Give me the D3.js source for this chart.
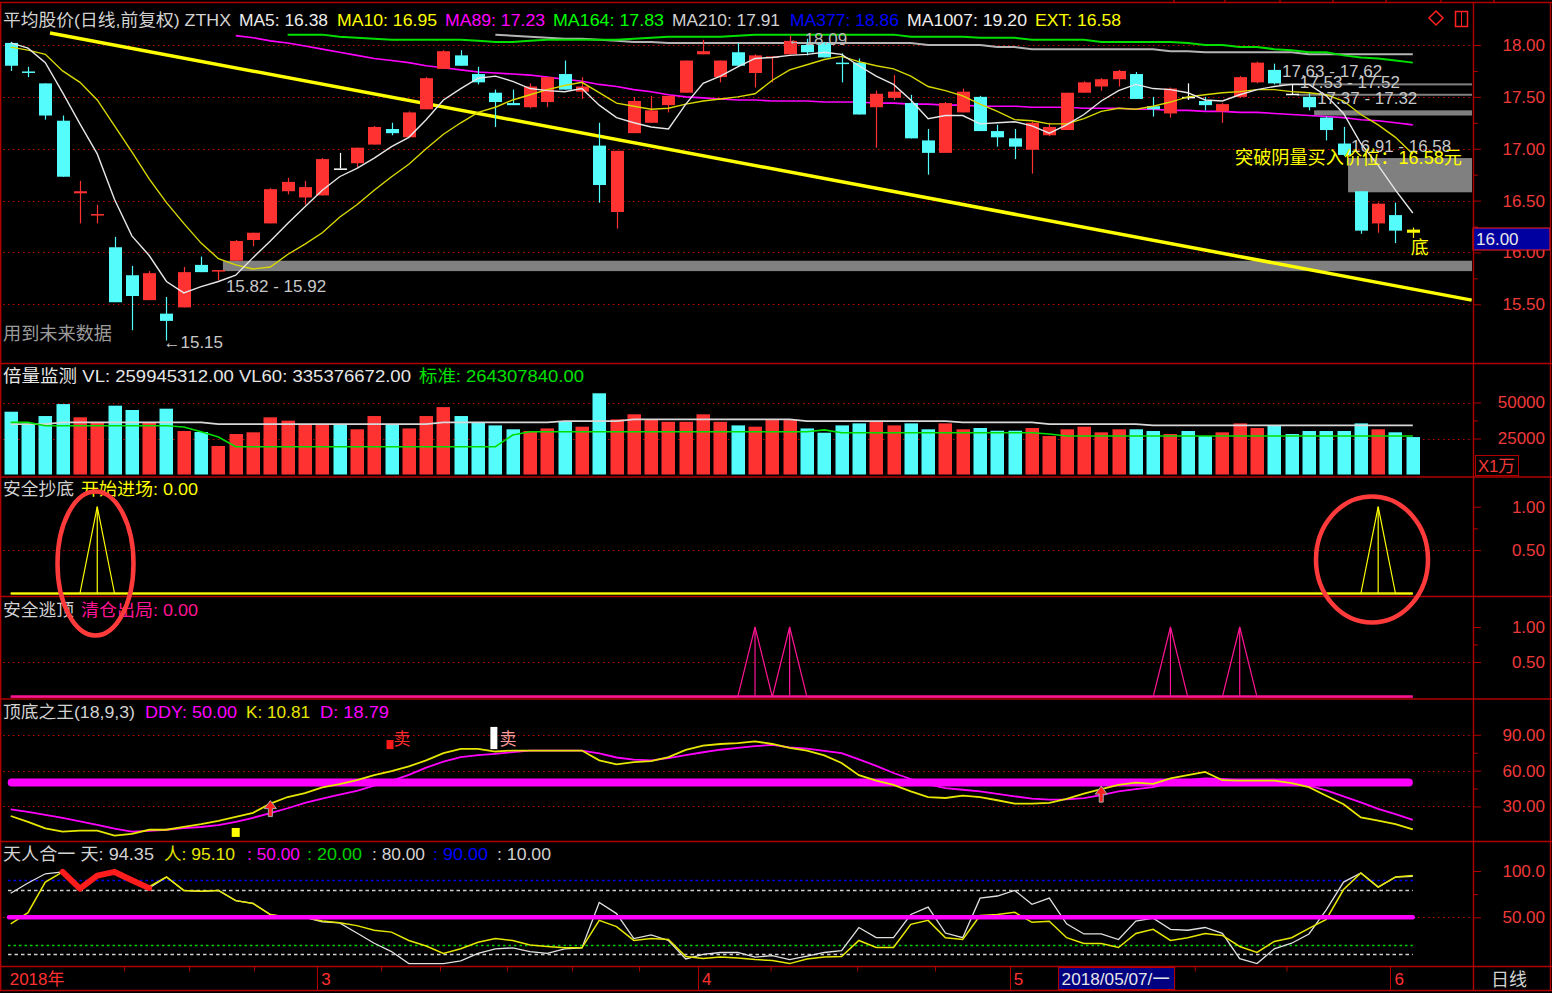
<!DOCTYPE html>
<html><head><meta charset="utf-8">
<script src="https://cdn.jsdelivr.net/npm/d3@7/dist/d3.min.js"></script>
<style>
html,body{margin:0;padding:0;background:#000;overflow:hidden}
svg{display:block}
</style></head><body>
<svg id="chart" width="1552" height="993"></svg>
<script>
// ---------------- DATA ----------------
const open=[18.02,17.745,17.63,17.27,16.57,16.36,16.05,15.78,15.54,15.41,
15.47,15.88,15.82,15.92,16.12,16.28,16.59,16.53,16.55,16.81,
16.86,17.04,17.19,17.11,17.38,17.77,17.90,17.72,17.54,17.44,
17.40,17.45,17.72,17.55,17.03,16.39,17.15,17.25,17.42,17.54,
17.91,17.69,17.93,17.73,17.88,17.91,18.00,18.02,17.83,17.83,
17.40,17.49,17.44,17.08,16.96,17.35,17.50,17.17,17.10,16.99,
17.13,17.18,17.54,17.60,17.67,17.72,17.41,17.34,17.50,17.46,
17.36,17.50,17.64,17.76,17.53,17.50,17.30,17.05,16.59,16.28,
16.36,16.22];
const close=[17.80,17.735,17.32,16.73,16.59,16.37,15.52,15.58,15.80,15.34,
15.81,15.81,15.83,16.11,16.19,16.61,16.68,16.63,16.90,16.81,
17.01,17.21,17.15,17.35,17.68,17.94,17.80,17.64,17.45,17.42,
17.60,17.69,17.57,17.60,16.65,16.98,17.46,17.37,17.51,17.85,
17.94,17.85,17.80,17.90,17.89,18.04,17.93,17.88,17.82,17.33,
17.53,17.55,17.10,16.96,17.44,17.55,17.17,17.11,17.02,17.25,
17.21,17.54,17.64,17.67,17.75,17.48,17.38,17.58,17.50,17.42,
17.43,17.69,17.83,17.63,17.53,17.40,17.18,16.94,16.21,16.47,
16.21,16.19];
const high=[18.03,17.79,17.63,17.32,16.69,16.46,16.15,15.87,15.82,15.57,
15.86,15.96,15.83,16.12,16.19,16.62,16.72,16.69,16.91,16.96,
17.01,17.22,17.25,17.36,17.69,17.95,17.95,17.79,17.57,17.57,
17.63,17.69,17.85,17.69,17.25,16.98,17.50,17.51,17.51,17.85,
18.05,17.85,18.02,17.91,17.89,18.09,18.06,18.03,17.92,17.87,
17.56,17.71,17.52,17.19,17.45,17.58,17.51,17.23,17.19,17.26,
17.25,17.54,17.65,17.68,17.76,17.74,17.50,17.59,17.63,17.50,
17.44,17.70,17.84,17.82,17.62,17.54,17.31,17.21,16.59,16.48,
16.48,16.24];
const low=[17.75,17.69,17.28,16.73,16.28,16.28,15.52,15.25,15.54,15.15,
15.47,15.81,15.73,15.92,16.06,16.28,16.56,16.46,16.55,16.81,
16.82,17.04,17.13,17.11,17.38,17.77,17.80,17.62,17.21,17.42,
17.39,17.40,17.57,17.48,16.48,16.23,17.15,17.25,17.35,17.54,
17.91,17.64,17.80,17.59,17.64,17.91,17.90,17.88,17.64,17.33,
17.01,17.47,17.10,16.75,16.96,17.35,17.17,17.02,16.90,16.76,
17.12,17.18,17.54,17.56,17.60,17.48,17.31,17.30,17.47,17.37,
17.25,17.49,17.63,17.62,17.52,17.37,17.08,16.93,16.18,16.19,
16.09,16.14];
const ma5=[18.02,17.97,17.83,17.54,17.24,16.95,16.51,16.16,15.97,15.72,
15.61,15.67,15.72,15.78,15.95,16.11,16.28,16.44,16.60,16.73,
16.81,16.91,17.02,17.11,17.28,17.47,17.58,17.68,17.70,17.65,
17.58,17.56,17.55,17.58,17.42,17.30,17.25,17.21,17.19,17.43,
17.63,17.70,17.79,17.87,17.88,17.90,17.91,17.93,17.91,17.80,
17.70,17.62,17.47,17.29,17.32,17.32,17.24,17.25,17.26,17.22,
17.15,17.23,17.33,17.46,17.56,17.62,17.58,17.57,17.54,17.47,
17.46,17.52,17.57,17.60,17.62,17.62,17.51,17.34,17.05,16.84,
16.60,16.38];
const ma10=[17.98,17.95,17.91,17.75,17.64,17.47,17.22,16.97,16.71,16.48,
16.28,16.09,15.94,15.88,15.84,15.86,15.98,16.08,16.19,16.34,
16.46,16.60,16.73,16.85,17.00,17.14,17.25,17.35,17.40,17.47,
17.52,17.57,17.61,17.64,17.54,17.44,17.41,17.38,17.39,17.43,
17.46,17.48,17.50,17.53,17.66,17.76,17.81,17.86,17.89,17.84,
17.80,17.77,17.70,17.60,17.56,17.51,17.43,17.36,17.28,17.27,
17.24,17.24,17.29,17.36,17.39,17.38,17.41,17.45,17.50,17.52,
17.54,17.55,17.57,17.57,17.55,17.54,17.52,17.46,17.33,17.23,
17.11,16.95];
const ma89=[null,null,null,null,null,null,null,null,null,null,null,null,null,
18.09,18.07,18.04,18.02,17.99,17.96,17.93,17.90,17.87,17.85,
17.83,17.80,17.78,17.76,17.74,17.73,17.72,17.71,17.69,17.67,
17.65,17.62,17.60,17.57,17.55,17.52,17.50,17.49,17.48,17.47,
17.47,17.46,17.46,17.46,17.45,17.45,17.45,17.44,17.44,17.43,
17.43,17.42,17.42,17.41,17.41,17.41,17.40,17.40,17.40,17.39,
17.39,17.39,17.38,17.38,17.37,17.37,17.36,17.36,17.35,17.35,
17.34,17.33,17.32,17.31,17.30,17.28,17.27,17.25,17.23];
const ma164=[null,null,null,null,null,null,null,null,null,null,null,null,null,null,null,null,
18.10,18.10,18.10,18.08,18.07,18.06,18.05,18.05,18.05,18.05,
18.05,18.04,18.03,18.03,18.04,18.05,18.05,18.05,18.05,18.05,
18.06,18.07,18.08,18.08,18.08,18.08,18.09,18.10,18.10,18.10,
18.10,18.10,18.10,18.10,18.10,18.10,18.08,18.08,18.08,18.08,
18.07,18.07,18.07,18.05,18.05,18.05,18.05,18.03,18.03,18.03,
18.03,18.03,18.02,18.00,18.00,17.98,17.98,17.96,17.95,17.93,
17.93,17.90,17.88,17.87,17.85,17.83];
const ma210=[null,null,null,null,null,null,null,null,null,null,null,null,null,null,
null,null,null,null,null,null,null,null,null,null,null,null,null,null,
18.10,18.09,18.08,18.07,18.06,18.06,18.05,18.04,18.03,18.03,
18.02,18.02,18.02,18.02,18.02,18.02,18.02,18.02,18.02,18.02,
18.02,18.02,18.02,18.02,18.02,18.00,18.00,18.00,18.00,17.98,
17.98,17.96,17.96,17.96,17.96,17.96,17.96,17.96,17.96,17.94,
17.94,17.93,17.93,17.93,17.93,17.93,17.93,17.91,17.91,17.91,
17.91,17.91,17.91,17.91];
// support / resistance zones (start day, high, low)
const zoneStart=[12.26,73.27,74.3,75.3,77.26];
const zoneHigh=[15.92,17.63,17.53,17.37,16.91];
const zoneLow=[15.82,17.62,17.52,17.32,16.58];
const zoneLabel=["15.82 - 15.92","17.63 - 17.62","17.53 - 17.52","17.37 - 17.32","16.91 - 16.58"];
// trend line (day index, price)
const trendDay=[2.27,84.4];
const trendPrice=[18.116,15.54];
const priceTicks=[15.5,16,16.5,17,17.5,18];
const priceMinor=[15.75,16.25,16.75,17.25,17.75];
const lowDay=9, highDay=45, bottomDay=81;
// volume (x 1万)
const volume=[43600,35500,40600,48900,39700,36000,47800,44800,36000,45700,
30200,29500,19800,28100,29300,39700,37400,35000,35000,35000,
31400,40600,35000,32000,40600,46800,40600,36200,34100,31400,
30200,32000,36600,33200,56400,38300,41800,38300,36600,36600,
41800,36600,34100,33200,37800,37800,32000,29000,34100,35500,
36600,34100,35500,31400,35500,31400,32300,30400,30400,32300,
26700,31400,33200,29300,31400,31400,30200,28100,30200,26700,
29300,35500,32300,34100,28100,30200,30200,30200,35500,31400,
29300,26000];
const volMA60=[35000,35000,35000,36200,36200,36200,36200,36200,36200,36200,
36200,36200,35000,35000,35000,35000,35000,35000,35000,35000,
35000,35000,35000,35000,35000,36200,36200,36200,36200,36200,
36200,36200,37100,37100,37100,37100,38300,38300,38300,38300,
38300,38300,38300,38300,38300,38300,37100,37100,37100,37100,
37100,37100,37100,37100,37100,36200,36200,36200,36200,36200,
35000,35000,35000,35000,35000,35000,34100,34100,34100,34100,
34100,34100,34100,34100,34100,34100,34100,34100,34100,34100,
34100,34100];
const volStd=[36200,36200,33900,33900,33900,33900,33900,33900,33900,33900,
33000,29700,26000,19300,19300,19300,19300,19300,19300,19300,
19300,19300,19300,19300,19300,19300,19300,19300,19300,27400,
29700,29700,29700,29700,29700,29700,29700,29700,29700,29700,
29700,29700,29700,29700,29700,29700,29700,31000,29000,29000,
29000,29000,29000,29000,29000,29000,29000,29000,29000,29000,
28100,26700,26700,26700,26700,26700,26700,26700,26700,26700,
26700,26700,26700,26700,26700,26700,26700,26700,26700,26700,
26700,26700];
const volTicks=[25000,50000], volMinor=[37500];
// 安全抄底 / 安全逃顶
const entrySig=[0,0,0,0,0,1,0,0,0,0, 0,0,0,0,0,0,0,0,0,0, 0,0,0,0,0,0,0,0,0,0, 0,0,0,0,0,0,0,0,0,0,
0,0,0,0,0,0,0,0,0,0, 0,0,0,0,0,0,0,0,0,0, 0,0,0,0,0,0,0,0,0,0, 0,0,0,0,0,0,0,0,0,1, 0,0];
const exitSig=[0,0,0,0,0,0,0,0,0,0, 0,0,0,0,0,0,0,0,0,0, 0,0,0,0,0,0,0,0,0,0, 0,0,0,0,0,0,0,0,0,0,
0,0,0,1,0,1,0,0,0,0, 0,0,0,0,0,0,0,0,0,0, 0,0,0,0,0,0,0,1,0,0, 0,1,0,0,0,0,0,0,0,0, 0,0];
// 顶底之王
const kLine=[22.0,17.1,11.6,8.9,9.7,9.7,5.6,7.0,10.5,10.5,
13.0,15.2,18.0,21.2,24.7,32.4,37.9,41.2,46.0,48.8,
52.0,56.2,59.5,63.5,68.6,74.6,78.2,78.2,76.0,76.8,
76.8,76.8,76.8,76.8,68.6,65.3,67.2,68.0,71.3,77.4,
81.0,82.3,83.1,84.5,82.3,79.0,76.8,72.7,66.4,56.2,
51.6,48.0,42.6,37.9,37.1,39.0,37.9,35.2,32.4,32.4,
33.0,36.3,40.7,44.5,48.0,50.0,48.9,53.6,56.2,59.0,
52.0,51.6,51.6,51.6,49.5,46.2,39.0,31.8,20.8,18.1,
15.3,10.81];
const dLine=[27.5,25.5,23,20.5,17.5,14.5,11.5,9,9.5,10.5,
11.8,12.8,14.3,17,20.5,24.5,28.5,33,36.5,40,
43,47.5,51.5,56.5,62.5,67.5,71.3,73,74.1,75.5,
76.8,76.8,76.8,76.8,74.5,71,69.3,68.6,70.5,73,
75.4,77.5,79,80.5,81.5,79.5,78.5,76.5,74.6,69.5,
64,58,53,48.5,45.3,44,42.6,40.5,38.5,36.5,
35.8,36,37,39.5,42.6,44.5,46.2,49.5,52,53.6,
53,51.6,51,50.3,49.7,47.5,43.5,38.5,33.5,28,
23.5,18.79];
const ddyLevel=50;
const kdTicks=[30,60,90], kdMinor=[45,75];
const sellDays=[22,28], sellTop=[85.6,96.6], sellBottom=[78,78];
const buyArrowDays=[15,63];
const bottomMarkDays=[13], bottomMarkTop=[12], bottomMarkBottom=[4.5];
// 天人合一
const sky=[76,87,97,99,81,95,99,90,81.5,93.5,
79,78,79,68,65,53,50,50,45,44,
33,22,13,0,0,0,3,11,16,17,
13,11,16,17,66,54,27,31,25,5,
10,12,12,7,8.7,4.3,8,12,14,39,
28,28,53,61,33,28,70.7,73,79,64,
70.7,43,32,32,26,46,49,37,36,39,
32.6,5.4,0,16,22,32,58,88,97.8,82.6,
93.5,94.35];
const human=[43,55,88,99,81,95,99,90,83,93.5,
79,78,79,68,65,53,50,50,46,44,
41,36,34,25,19,11,16,23,27,25,
20,18.5,17,17,46.7,40,25,27,26,7.6,
5.4,7,6,4.3,3.3,0,5,7,7.6,25,
17.4,17.4,42.4,46.7,28,26,52,53,55.4,44.6,
45.7,28,21.7,21.7,17.4,32.6,37,25,28,32.6,
30.4,18.5,12,23.9,28,38,47.8,80,97.8,82.6,
93.5,95.1];
const hotFrom=3, hotTo=8;
const refLevels=[90,80,50,20,10];
// x axis
const monthStart=[0,18,40,58,80];
const monthLabel=["2018年","3","4","5","6"];
const weekTicks=[6.55,10.3,14.06,21.4,24.8,28.67,32.43,36.3,43.9,48.9,53.4,63.5,68.4,73.7];
const cursorDay=61, cursorLabel="2018/05/07/一";

// ---------------- DRAW ----------------
const FONT='"Liberation Sans","Noto Sans CJK SC",sans-serif';
const RED="#ff3232", CYAN="#54fcfc", BORDER="#b00000", GRID="#c00000", LABEL="#ee3a3a";
const W=1552,H=993,AX=1473;
const svg=d3.select("#chart");
svg.append("rect").attr("width",W).attr("height",H).attr("fill","#000");
const N=close.length;
const x=d3.scaleLinear().domain([0,N-1]).range([10.7,1412.8]);

function txt(g,px,py,s,color,size,len){
  const t=g.append("text").attr("x",px).attr("y",py).attr("fill",color)
    .style("font-family",FONT).style("font-size",size+"px").text(s);
  if(len) t.attr("textLength",len).attr("lengthAdjust","spacingAndGlyphs");
  return t;
}
function grid(g,scale,vals,x1,x2){
  g.selectAll(null).data(vals).join("line").attr("x1",x1).attr("x2",x2)
   .attr("y1",d=>Math.round(scale(d))+0.5).attr("y2",d=>Math.round(scale(d))+0.5)
   .attr("stroke",GRID).attr("stroke-width",1).attr("stroke-dasharray","1.5,3.5");
}
function rightAxis(scale,major,minor,fmt){
  const g=svg.append("g").attr("transform",`translate(${AX},0)`);
  g.call(d3.axisRight(scale).tickValues(major).tickSize(8).tickFormat(fmt));
  g.select(".domain").remove();
  g.selectAll(".tick line").attr("stroke",BORDER);
  g.selectAll(".tick text").attr("fill",LABEL).attr("x",72).attr("text-anchor","end")
    .style("font-family",FONT).style("font-size","17px");
  if(minor.length){
    const g2=svg.append("g").attr("transform",`translate(${AX},0)`);
    g2.call(d3.axisRight(scale).tickValues(minor).tickSize(5).tickFormat(""));
    g2.select(".domain").remove();
    g2.selectAll(".tick line").attr("stroke",BORDER);
  }
}
const candleColor=i=> i===bottomDay?"#ffff00":close[i]>open[i]?RED:close[i]<open[i]?CYAN:"#ffffff";
const volColor=i=> close[i]>open[i]?RED:CYAN;

// ===== main price panel =====
const yP=d3.scaleLinear().domain([15.5,18]).range([304.3,45]);
svg.append("defs").append("clipPath").attr("id","clipMain").append("rect")
  .attr("x",2).attr("y",29).attr("width",AX-3).attr("height",334);
const gm=svg.append("g").attr("clip-path","url(#clipMain)");
grid(gm,yP,priceTicks,3,AX);
zoneStart.forEach((s,k)=>{
  const y1=yP(zoneHigh[k]), y2=yP(zoneLow[k]);
  gm.append("rect").attr("x",x(s)).attr("y",Math.min(y1,y2)).attr("width",AX-1-x(s))
    .attr("height",Math.max(2,Math.abs(y2-y1))).attr("fill","#808080");
});
gm.append("path").datum(trendDay.map((d,k)=>[d,trendPrice[k]]))
  .attr("d",d3.line().x(d=>x(d[0])).y(d=>yP(d[1]))).attr("stroke","#ffff00").attr("stroke-width",3.5).attr("fill","none");
const maLine=(arr,color,w)=>gm.append("path").datum(arr.map((v,i)=>[i,v]))
  .attr("d",d3.line().defined(d=>d[1]!=null).x(d=>x(d[0])).y(d=>yP(d[1])))
  .attr("stroke",color).attr("stroke-width",w).attr("fill","none");
maLine(ma210,"#b4b4b4",2);
maLine(ma164,"#00e000",2);
maLine(ma89,"#ff00ff",1.6);
// candles
const gc=gm.append("g");
gc.selectAll("line").data(d3.range(N)).join("line")
  .attr("x1",i=>Math.round(x(i))+0.5).attr("x2",i=>Math.round(x(i))+0.5)
  .attr("y1",i=>yP(high[i])).attr("y2",i=>yP(low[i])).attr("stroke",candleColor).attr("stroke-width",1.2);
gc.selectAll("rect").data(d3.range(N)).join("rect")
  .attr("x",i=>Math.round(x(i))-6).attr("width",13)
  .attr("y",i=>yP(Math.max(open[i],close[i])))
  .attr("height",i=>Math.max(1.5,yP(Math.min(open[i],close[i]))-yP(Math.max(open[i],close[i]))))
  .attr("fill",candleColor);
maLine(ma10,"#d8d800",1.4);
maLine(ma5,"#e6e6e6",1.4);
// annotations
zoneStart.forEach((s,k)=>{
  const yy = k===0 ? yP(zoneLow[k])+21 : yP(zoneHigh[k])-6;
  txt(gm,x(s)+3,yy,zoneLabel[k],"#c8c8c8",17);
});
txt(gm,x(lowDay)-3,yP(low[lowDay])+7,"←"+low[lowDay].toFixed(2),"#c8c8c8",17);
txt(gm,x(highDay)-2,yP(high[highDay])+9,"←"+high[highDay].toFixed(2),"#b8b8b8",17);
txt(gm,3,340,"用到未来数据","#9a9a9a",18,109);
txt(gm,1235,164,"突破阴量买入价位：16.58元","#ffff00",18,227);
txt(gm,x(bottomDay)-2,yP(low[bottomDay])+16,"底","#ffff00",18);
rightAxis(yP,priceTicks,priceMinor,d3.format(".2f"));
// cursor price box
svg.append("rect").attr("x",AX).attr("y",228).attr("width",77).attr("height",22).attr("fill","#0000a0").attr("stroke","#ff2020");
txt(svg,1476,245,"16.00","#e8e8e8",17);

// header
const hdr=[["平均股价(日线,前复权) ZTHX",3,228,"#d2d2d2"],["MA5: 16.38",239,89,"#eeeeee"],["MA10: 16.95",337,100,"#ffff00"],
["MA89: 17.23",445,100,"#ff00ff"],["MA164: 17.83",553,111,"#00ff00"],["MA210: 17.91",672,108,"#d2d2d2"],
["MA377: 18.86",790,109,"#0000ff"],["MA1007: 19.20",907,120,"#eeeeee"],["EXT: 16.58",1035,86,"#ffff00"]];
hdr.forEach(h=>txt(svg,h[1],26,h[0],h[3],17,h[2]));
svg.append("path").attr("d","M1436,11 L1443,18 L1436,25 L1429,18 Z").attr("fill","none").attr("stroke","#ff2020").attr("stroke-width",1.5);
svg.append("rect").attr("x",1455.5).attr("y",11.5).attr("width",12).attr("height",15).attr("fill","none").attr("stroke","#ff2020").attr("stroke-width",1.5);
svg.append("line").attr("x1",1461.5).attr("x2",1461.5).attr("y1",12).attr("y2",26).attr("stroke","#ff2020");

// ===== volume panel =====
const yV=d3.scaleLinear().domain([0,50000]).range([474.5,402.5]);
const gv=svg.append("g");
grid(gv,yV,volTicks,3,AX);
gv.selectAll("rect").data(d3.range(N)).join("rect")
  .attr("x",i=>Math.round(x(i))-6.5).attr("width",13.5)
  .attr("y",i=>yV(volume[i])).attr("height",i=>yV(0)-yV(volume[i])).attr("fill",volColor);
const vLine=(arr,color,w)=>gv.append("path").datum(arr)
  .attr("d",d3.line().x((d,i)=>x(i)).y(d=>yV(d))).attr("stroke",color).attr("stroke-width",w).attr("fill","none");
vLine(volMA60,"#d8d8d8",1.8);
vLine(volStd,"#00e000",1.6);
txt(svg,3,382,"倍量监测 VL: 259945312.00 VL60: 335376672.00","#e6e6e6",17,408);
txt(svg,419,382,"标准: 264307840.00","#00e000",17,165);
rightAxis(yV,volTicks,volMinor,d3.format("d"));
svg.append("rect").attr("x",1475.5).attr("y",455.5).attr("width",43).attr("height",20).attr("fill","none").attr("stroke",BORDER);
txt(svg,1478,472,"X1万",LABEL,17,37);

// ===== 安全抄底 =====
const yA=d3.scaleLinear().domain([0,1]).range([593.5,506.7]);
const ga=svg.append("g");
grid(ga,yA,[0.5],3,AX);
ga.append("line").attr("x1",x(0)).attr("x2",x(N-1)).attr("y1",yA(0)).attr("y2",yA(0)).attr("stroke","#e8e800").attr("stroke-width",2.5);
ga.append("path").datum(entrySig).attr("d",d3.line().x((d,i)=>x(i)).y(d=>yA(d))).attr("stroke","#ffff00").attr("stroke-width",1.2).attr("fill","none");
ga.selectAll(".stk").data(d3.range(N).filter(i=>entrySig[i]>0)).join("line")
  .attr("x1",i=>x(i)).attr("x2",i=>x(i)).attr("y1",i=>yA(entrySig[i])).attr("y2",yA(0)).attr("stroke","#ffff00").attr("stroke-width",1.2);
txt(svg,3,495,"安全抄底","#d2d2d2",17,71);
txt(svg,81,495,"开始进场: 0.00","#ffff00",17,117);
rightAxis(yA,[0.5,1],[0.75],d3.format(".2f"));

// ===== 安全逃顶 =====
const yB=d3.scaleLinear().domain([0,1]).range([697,627]);
const gb=svg.append("g");
grid(gb,yB,[0.5],3,AX);
gb.append("line").attr("x1",x(0)).attr("x2",x(N-1)).attr("y1",yB(0)-0.5).attr("y2",yB(0)-0.5).attr("stroke","#ff1493").attr("stroke-width",2.5);
gb.append("path").datum(exitSig).attr("d",d3.line().x((d,i)=>x(i)).y(d=>yB(d))).attr("stroke","#ff1493").attr("stroke-width",1.2).attr("fill","none");
gb.selectAll(".stk").data(d3.range(N).filter(i=>exitSig[i]>0)).join("line")
  .attr("x1",i=>x(i)).attr("x2",i=>x(i)).attr("y1",i=>yB(exitSig[i])).attr("y2",yB(0)).attr("stroke","#ff1493").attr("stroke-width",1.2);
txt(svg,3,616,"安全逃顶","#d2d2d2",17,71);
txt(svg,81,616,"清仓出局: 0.00","#ff1493",17,117);
rightAxis(yB,[0.5,1],[0.75],d3.format(".2f"));

// ===== 顶底之王 =====
const yK=d3.scaleLinear().domain([0,90]).range([842.3,734.8]);
const gk=svg.append("g");
grid(gk,yK,kdTicks,3,AX);
gk.append("line").attr("x1",x(0)+1).attr("x2",x(N-1)-4).attr("y1",yK(ddyLevel)).attr("y2",yK(ddyLevel))
  .attr("stroke","#ff00ff").attr("stroke-width",8).attr("stroke-linecap","round");
gk.append("path").datum(dLine).attr("d",d3.line().x((d,i)=>x(i)).y(d=>yK(d))).attr("stroke","#ff00ff").attr("stroke-width",1.8).attr("fill","none");
gk.append("path").datum(kLine).attr("d",d3.line().x((d,i)=>x(i)).y(d=>yK(d))).attr("stroke","#e6e600").attr("stroke-width",1.8).attr("fill","none");
sellDays.forEach((d,k)=>{
  gk.append("rect").attr("x",x(d)-5).attr("y",yK(sellTop[k])).attr("width",7).attr("height",yK(sellBottom[k])-yK(sellTop[k]))
    .attr("fill",k===0?"#ff1a1a":"#ffffff");
  txt(gk,x(d)+(k===0?2:4),745,"卖",k===0?"#ff2a2a":"#ff9a9a",17);
});
buyArrowDays.forEach(d=>{
  const cx=x(d), ty=yK(kLine[d])-3;
  gk.append("path").attr("d",`M${cx},${ty} L${cx+6},${ty+8} L${cx+2},${ty+8} L${cx+2},${ty+16} L${cx-2},${ty+16} L${cx-2},${ty+8} L${cx-6},${ty+8} Z`)
    .attr("fill","#ff2020").attr("stroke","#a8a8a8").attr("stroke-width",1);
});
bottomMarkDays.forEach((d,k)=>{
  gk.append("rect").attr("x",x(d)-4).attr("y",yK(bottomMarkTop[k])).attr("width",8).attr("height",yK(bottomMarkBottom[k])-yK(bottomMarkTop[k])).attr("fill","#ffff00");
});
txt(svg,3,718,"顶底之王(18,9,3)","#d2d2d2",17,132);
txt(svg,145,718,"DDY: 50.00","#ff00ff",17,92);
txt(svg,246,718,"K: 10.81","#e6e600",17,64);
txt(svg,320,718,"D: 18.79","#ff00ff",17,69);
rightAxis(yK,kdTicks,kdMinor,d3.format(".2f"));

// ===== 天人合一 =====
const yT=d3.scaleLinear().domain([0,100]).range([963.6,871]);
const gt=svg.append("g");
grid(gt,yT,[50],3,AX);
const refColor={90:"#0000ff",80:"#d0d0d0",20:"#00d000",10:"#d0d0d0"};
refLevels.filter(v=>v!==50).forEach(v=>{
  gt.append("line").attr("x1",8).attr("x2",x(N-1)).attr("y1",Math.round(yT(v))+0.5).attr("y2",Math.round(yT(v))+0.5)
    .attr("stroke",refColor[v]).attr("stroke-width",1.6).attr("stroke-dasharray",v===90||v===20?"2.5,3":"3.5,3");
});
gt.append("path").datum(sky).attr("d",d3.line().x((d,i)=>x(i)).y(d=>yT(d))).attr("stroke","#e0e0e0").attr("stroke-width",1.3).attr("fill","none");
gt.append("path").datum(human).attr("d",d3.line().x((d,i)=>x(i)).y(d=>yT(d))).attr("stroke","#e6e600").attr("stroke-width",1.5).attr("fill","none");
gt.append("path").datum(d3.range(hotFrom,hotTo+1)).attr("d",d3.line().x(i=>x(i)).y(i=>yT(sky[i])))
  .attr("stroke","#ff1c1c").attr("stroke-width",6).attr("stroke-linejoin","round").attr("stroke-linecap","round").attr("fill","none");
gt.append("line").attr("x1",9).attr("x2",x(N-1)).attr("y1",yT(50)).attr("y2",yT(50)).attr("stroke","#ff00ff").attr("stroke-width",4.5).attr("stroke-linecap","round");
const t1=[["天人合一 天: 94.35",3,151,"#d2d2d2"],["人: 95.10",164,71,"#e6e600"],[": 50.00",247,53,"#ff00ff"],
[": 20.00",307,55,"#00d000"],[": 80.00",372,53,"#d2d2d2"],[": 90.00",433,55,"#0000ff"],[": 10.00",497,54,"#d2d2d2"]];
t1.forEach(h=>txt(svg,h[1],860,h[0],h[3],17,h[2]));
rightAxis(yT,[50,100],[75],d=>d===100?"100.0":d3.format(".2f")(d));

// ===== x axis band =====
const gx=svg.append("g").attr("transform","translate(0,966.5)");
gx.call(d3.axisBottom(x).tickValues(weekTicks).tickSize(5).tickFormat(""));
gx.select(".domain").remove();
gx.selectAll(".tick line").attr("stroke",BORDER);
monthStart.forEach((d,k)=>{
  if(k>0) svg.append("line").attr("x1",Math.round(x(d))-4.5).attr("x2",Math.round(x(d))-4.5).attr("y1",966).attr("y2",991).attr("stroke",BORDER);
  txt(svg,x(d)-1,985,monthLabel[k],"#ff3030",17);
});
svg.append("rect").attr("x",x(cursorDay)-8).attr("y",967.5).attr("width",116).attr("height",22).attr("fill","#000080").attr("stroke","#c00000");
txt(svg,x(cursorDay)-5,985,cursorLabel,"#e6e6e6",17,108);
txt(svg,1491,986,"日线","#d2d2d2",18);

// ===== borders =====
const gB=svg.append("g").attr("stroke",BORDER).attr("stroke-width",1.4);
[2.5,363.5,477,596.5,699,841.5,966.5,990.5].forEach(yy=>gB.append("line").attr("x1",0).attr("x2",W).attr("y1",yy).attr("y2",yy));
[0.7,AX+0.5,1550.5].forEach(xx=>gB.append("line").attr("x1",xx).attr("x2",xx).attr("y1",2.5).attr("y2",991));
[1174,1225,1280,1333,1386,1441,1494].forEach(xx=>gB.append("line").attr("x1",xx).attr("x2",xx).attr("y1",0).attr("y2",3));

// ===== red ellipses =====
svg.append("ellipse").attr("cx",95.5).attr("cy",563.5).attr("rx",38).attr("ry",72).attr("fill","none").attr("stroke","#ff3a3a").attr("stroke-width",4.5);
svg.append("ellipse").attr("cx",1372).attr("cy",559.5).attr("rx",56).attr("ry",63).attr("fill","none").attr("stroke","#ff3a3a").attr("stroke-width",4.5);
</script>
</body></html>
